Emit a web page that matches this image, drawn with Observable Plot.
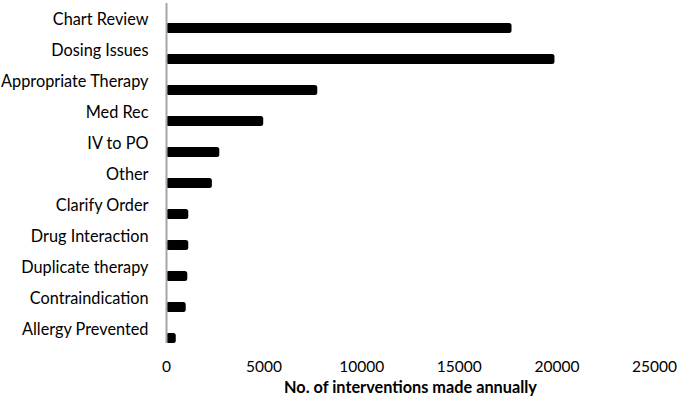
<!DOCTYPE html>
<html>
<head>
<meta charset="utf-8">
<script src="https://cdn.jsdelivr.net/npm/d3@7"></script>
<script src="https://cdn.jsdelivr.net/npm/@observablehq/plot@0.6"></script>
<style>
  html, body { margin: 0; padding: 0; background: #fff; }
  #chart svg { display: block; }
</style>
</head>
<body>
<div id="chart"></div>
<script>
const categories = ["Chart Review", "Dosing Issues", "Appropriate Therapy", "Med Rec", "IV to PO", "Other", "Clarify Order", "Drug Interaction", "Duplicate therapy", "Contraindication", "Allergy Prevented"];
const interventions = [17700, 19900, 7750, 4980, 2730, 2350, 1140, 1140, 1090, 1010, 500];
const xTicks = [0, 5000, 10000, 15000, 20000, 25000];
const xLabel = "No. of interventions made annually";

const data = categories.map((c, i) => ({category: c, value: interventions[i]}));

const chart = Plot.plot({
  width: 680,
  height: 404,
  marginLeft: 166,
  marginRight: 26,
  marginTop: 1,
  marginBottom: 40,
  style: {fontFamily: "Lato, sans-serif", fontSize: "15px", color: "#000", background: "#fff"},
  x: {domain: [0, 25000], ticks: xTicks, label: null},
  y: {domain: categories, padding: 0.68, label: null},
  marks: [
    Plot.barX(data, {x: "value", y: "category", fill: "#000", rx: 2.5}),
    Plot.ruleX([0], {stroke: "#a6a6a6", strokeWidth: 2, insetTop: 2, insetBottom: 21}),
    Plot.axisY({tickSize: 0, tickPadding: 18, dy: -9, fill: "#000", fontSize: 16.3}),
    Plot.axisX({tickSize: 0, tickPadding: 0, dy: -4, ticks: xTicks, tickFormat: d => String(d), fill: "#000", fontSize: 15.5, label: null}),
    Plot.text([xLabel], {frameAnchor: "bottom", dy: 28, text: d => d, fontWeight: "bold", fontSize: 16.3, fill: "#000"})
  ]
});
document.getElementById("chart").appendChild(chart);
</script>
</body>
</html>
